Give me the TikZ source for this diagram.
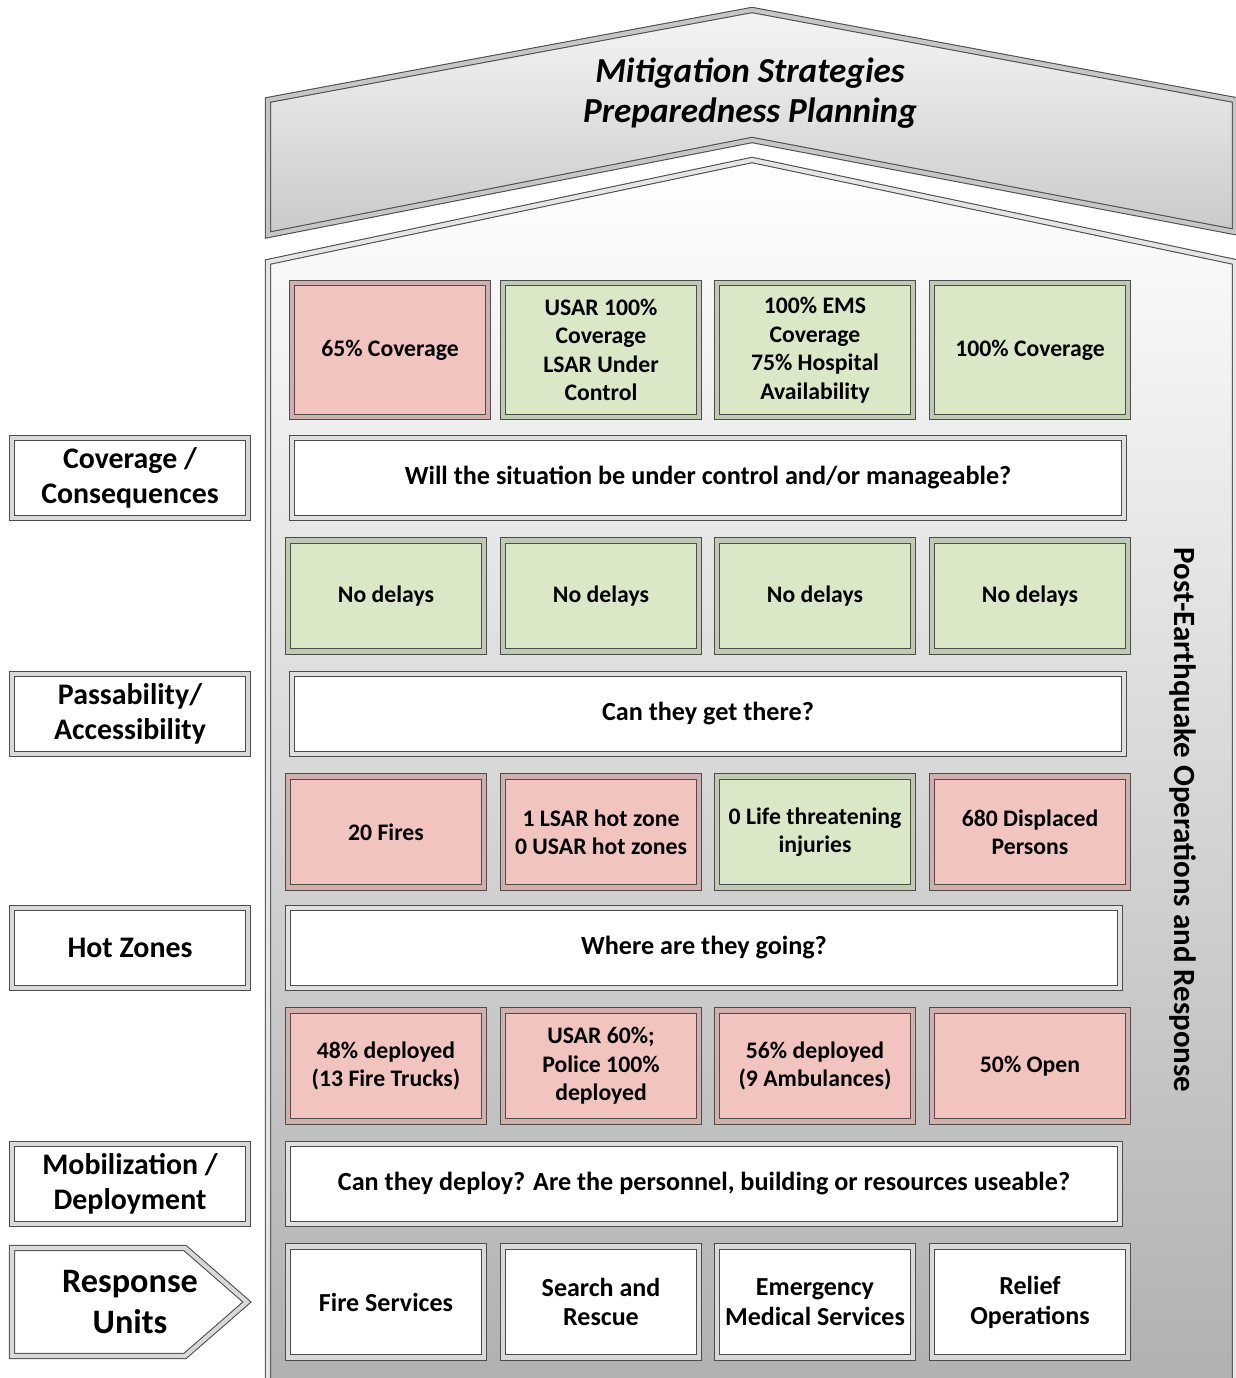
\documentclass[tikz,border=0pt]{standalone}
\usepackage{fontspec}
\setmainfont{Carlito}
\usetikzlibrary{shadows}
\definecolor{redcell}{RGB}{242,196,192}
\definecolor{greencell}{RGB}{219,232,199}
\begin{document}
\begin{tikzpicture}[x=0.02cm, y=-0.02cm,
    frame/.style={draw=black!70, line width=0.6pt, double distance=2.4pt},
    cell/.style={frame, align=center, inner sep=1pt,
        font=\fontsize{13.5}{16.2}\selectfont\bfseries,
        minimum width=3.92cm, minimum height=2.22cm,
        drop shadow={shadow xshift=1.5pt, shadow yshift=-1.5pt, opacity=.45}},
    badcell/.style={cell, fill=redcell, double=redcell!70!gray},
    okcell/.style={cell, fill=greencell, double=greencell!70!gray},
    unitcell/.style={cell, fill=white, double=gray!30,
        font=\fontsize{14.8}{17}\selectfont\bfseries},
    qbar/.style={frame, fill=white, double=gray!25, align=center,
        font=\fontsize{14.9}{17}\selectfont\bfseries,
        minimum width=16.64cm, minimum height=1.6cm,
        drop shadow={shadow xshift=1.5pt, shadow yshift=-1.5pt, opacity=.45}},
    lbl/.style={frame, fill=white, double=gray!30, align=center,
        font=\fontsize{17}{20}\selectfont\bfseries,
        minimum width=4.72cm, minimum height=1.6cm}]
    \useasboundingbox (0,0) rectangle (1235,1378);

    %% roof and house
    \shade[frame, double=gray!45, top color=gray!8, bottom color=gray!42]
        (268,100) -- (752,10) -- (1235,100) -- (1235,232) -- (752,140) -- (268,235) -- cycle;
    \shade[frame, double=gray!20, top color=white, middle color=gray!12, bottom color=gray!62]
        (268,1390) -- (268,262) -- (752,160) -- (1235,262) -- (1235,1390) -- cycle;
    \node[font=\fontsize{20}{22.7}\selectfont\bfseries\itshape, align=center] (title)
        at (750,93) {Mitigation Strategies\\Preparedness Planning};
    \node[font=\fontsize{17.6}{20}\selectfont\bfseries, rotate=-90] (side)
        at (1183,820) {Post-Earthquake Operations and Response};

    %% coverage row
    \node[badcell, minimum height=2.68cm] (cov1) at (390,350) {65\% Coverage};
    \node[okcell, minimum height=2.68cm] (cov2) at (601,350) {USAR 100\%\\Coverage\\LSAR Under\\Control};
    \node[okcell, minimum height=2.68cm] (cov3) at (815,350) {100\% EMS\\Coverage\\75\% Hospital\\Availability};
    \node[okcell, minimum height=2.68cm] (cov4) at (1030,350) {100\% Coverage};
    \node[qbar] (q1) at (708,478) {Will the situation be under control and/or manageable?};

    %% passability row
    \node[okcell] (pass1) at (386,596) {No delays};
    \node[okcell] (pass2) at (601,596) {No delays};
    \node[okcell] (pass3) at (815,596) {No delays};
    \node[okcell] (pass4) at (1030,596) {No delays};
    \node[qbar] (q2) at (708,714) {Can they get there?};

    %% hot zone row
    \node[badcell] (hot1) at (386,832) {20 Fires};
    \node[badcell] (hot2) at (601,832) {1 LSAR hot zone\\0 USAR hot zones};
    \node[okcell] (hot3) at (815,832) {0 Life threatening\\injuries};
    \node[badcell] (hot4) at (1030,832) {680 Displaced\\Persons};
    \node[qbar] (q3) at (704,948) {Where are they going?};

    %% deployment row
    \node[badcell] (dep1) at (386,1066) {48\% deployed\\(13 Fire Trucks)};
    \node[badcell] (dep2) at (601,1066) {USAR 60\%;\\Police 100\%\\deployed};
    \node[badcell] (dep3) at (815,1066) {56\% deployed\\(9 Ambulances)};
    \node[badcell] (dep4) at (1030,1066) {50\% Open};
    \node[qbar] (q4) at (704,1184) {Can they deploy? Are the personnel, building or resources useable?};

    %% units row
    \node[unitcell] (unit1) at (386,1302) {Fire Services};
    \node[unitcell] (unit2) at (601,1302) {Search and\\Rescue};
    \node[unitcell] (unit3) at (815,1302) {Emergency\\Medical Services};
    \node[unitcell] (unit4) at (1030,1302) {Relief\\Operations};

    %% labels on the left
    \node[lbl] (lcov) at (130,478) {Coverage /\\Consequences};
    \node[lbl] (lpass) at (130,714) {Passability/\\Accessibility};
    \node[lbl] (lhot) at (130,948) {Hot Zones};
    \node[lbl] (ldep) at (130,1184) {Mobilization /\\Deployment};
    \draw[frame, fill=white, double=gray!30]
        (12,1248) -- (185,1248) -- (247,1302) -- (185,1356) -- (12,1356) -- cycle;
    \node[font=\fontsize{19.5}{23}\selectfont\bfseries, align=center] (lunit)
        at (130,1302) {Response\\Units};
\end{tikzpicture}
\end{document}
